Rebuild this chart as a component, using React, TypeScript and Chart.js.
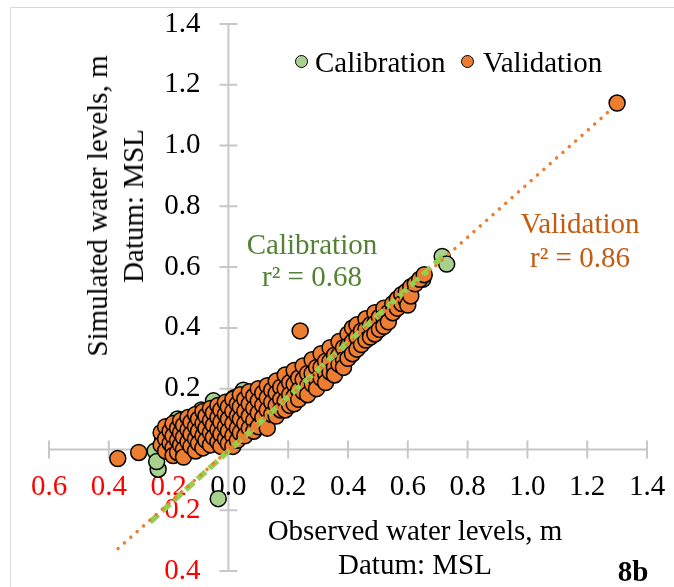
import React, { useEffect, useRef } from 'react';
import { Chart, registerables } from 'chart.js';

Chart.register(...registerables);

const FONT = '"Liberation Serif", "Times New Roman", serif';

// Axis ticks
const xTickValues = [-0.6, -0.4, -0.2, 0, 0.2, 0.4, 0.6, 0.8, 1.0, 1.2, 1.4];
const xTickLabels = ['0.6', '0.4', '0.2', '0.0', '0.2', '0.4', '0.6', '0.8', '1.0', '1.2', '1.4'];
const yTickValues = [-0.4, -0.2, 0, 0.2, 0.4, 0.6, 0.8, 1.0, 1.2, 1.4];
const yTickLabels = ['0.4', '0.2', '', '0.2', '0.4', '0.6', '0.8', '1.0', '1.2', '1.4'];

// Validation series: observed (x) and simulated (y), one line per group
const validationObserved = [
  -0.37, -0.30,
  -0.225, -0.225,
  -0.21, -0.21, -0.21,
  -0.195, -0.195,
  -0.185, -0.185, -0.185, -0.185,
  -0.17, -0.17, -0.17,
  -0.16, -0.16, -0.16,
  -0.15, -0.15, -0.15, -0.15,
  -0.135, -0.135, -0.135,
  -0.125, -0.125, -0.125,
  -0.11, -0.11, -0.11, -0.11,
  -0.10, -0.10, -0.10,
  -0.085, -0.085, -0.085, -0.085,
  -0.075, -0.075, -0.075,
  -0.06, -0.06, -0.06, -0.06,
  -0.05, -0.05, -0.05,
  -0.035, -0.035, -0.035, -0.035,
  -0.025, -0.025, -0.025, -0.025,
  -0.01, -0.01, -0.01, -0.01,
  0.0, 0.0, 0.0, 0.0,
  0.015, 0.015, 0.015, 0.015, 0.015,
  0.03, 0.03, 0.03, 0.03,
  0.04, 0.04, 0.04, 0.04,
  0.055, 0.055, 0.055, 0.055,
  0.07, 0.07, 0.07, 0.07,
  0.085, 0.085, 0.085, 0.085,
  0.10, 0.10, 0.10, 0.10,
  0.115, 0.115, 0.115,
  0.13, 0.13, 0.13, 0.13,
  0.145, 0.145, 0.145,
  0.16, 0.16, 0.16, 0.16,
  0.175, 0.175, 0.175,
  0.19, 0.19, 0.19, 0.19,
  0.205, 0.205, 0.205,
  0.22, 0.22, 0.22, 0.22,
  0.235, 0.235, 0.235,
  0.24,
  0.25, 0.25, 0.25,
  0.265, 0.265, 0.265,
  0.28, 0.28, 0.28,
  0.295, 0.295, 0.295,
  0.31, 0.31, 0.31,
  0.325, 0.325, 0.325,
  0.34, 0.34, 0.34,
  0.355, 0.355, 0.355,
  0.37, 0.37, 0.37,
  0.385, 0.385, 0.385,
  0.40, 0.40, 0.40,
  0.415, 0.415, 0.415,
  0.43, 0.43, 0.43,
  0.445, 0.445,
  0.46, 0.46, 0.46,
  0.475, 0.475,
  0.49, 0.49, 0.49,
  0.505, 0.505,
  0.52, 0.52, 0.52,
  0.535, 0.535,
  0.55, 0.55,
  0.565, 0.565,
  0.58, 0.58,
  0.595, 0.595,
  0.60,
  0.61, 0.61,
  0.625, 0.64, 0.655,
  1.30,
];
const validationSimulated = [
  -0.03, -0.01,
  0.055, 0.015,
  0.075, 0.035, -0.005,
  0.06, 0.02,
  0.085, 0.045, 0.005, -0.02,
  0.07, 0.03, -0.01,
  0.095, 0.055, 0.015,
  0.08, 0.04, 0.0, -0.025,
  0.105, 0.065, 0.025,
  0.09, 0.05, 0.01,
  0.115, 0.075, 0.035, -0.005,
  0.10, 0.06, 0.02,
  0.125, 0.085, 0.045, 0.005,
  0.11, 0.07, 0.03,
  0.135, 0.095, 0.055, 0.015,
  0.12, 0.08, 0.04,
  0.145, 0.105, 0.065, 0.025,
  0.13, 0.09, 0.05, 0.01,
  0.155, 0.115, 0.075, 0.035,
  0.14, 0.10, 0.06, 0.02,
  0.165, 0.125, 0.085, 0.045, 0.01,
  0.15, 0.11, 0.07, 0.03,
  0.18, 0.14, 0.10, 0.055,
  0.165, 0.125, 0.085, 0.045,
  0.19, 0.15, 0.11, 0.07,
  0.175, 0.135, 0.095, 0.06,
  0.20, 0.16, 0.12, 0.075,
  0.185, 0.145, 0.105,
  0.21, 0.17, 0.13, 0.07,
  0.195, 0.155, 0.115,
  0.225, 0.185, 0.145, 0.11,
  0.205, 0.165, 0.13,
  0.245, 0.20, 0.16, 0.13,
  0.22, 0.18, 0.145,
  0.26, 0.215, 0.175, 0.15,
  0.235, 0.195, 0.165,
  0.39,
  0.275, 0.23, 0.19,
  0.25, 0.21, 0.18,
  0.295, 0.25, 0.215,
  0.27, 0.23, 0.20,
  0.315, 0.27, 0.235,
  0.29, 0.25, 0.22,
  0.335, 0.29, 0.255,
  0.31, 0.27, 0.245,
  0.355, 0.31, 0.28,
  0.335, 0.295, 0.27,
  0.38, 0.34, 0.30,
  0.40, 0.355, 0.315,
  0.41, 0.37, 0.33,
  0.39, 0.345,
  0.43, 0.395, 0.36,
  0.41, 0.37,
  0.45, 0.415, 0.38,
  0.435, 0.395,
  0.465, 0.435, 0.405,
  0.45, 0.42,
  0.48, 0.45,
  0.495, 0.465,
  0.51, 0.48,
  0.52, 0.49,
  0.475,
  0.535, 0.505,
  0.545, 0.56, 0.575,
  1.14,
];

// Calibration series: observed (x) and simulated (y)
const calibrationObserved = [
  -0.245, -0.235, -0.24, -0.22, -0.21, -0.19, -0.17, -0.15, -0.13, -0.11,
  -0.09, -0.07, -0.05, -0.03, -0.034, 0.0, 0.02, 0.05, 0.07, 0.10,
  0.13, 0.16, 0.20, 0.25, 0.30, 0.35, 0.40, 0.45, 0.50, 0.55,
  0.60, 0.65, 0.715, 0.73,
];
const calibrationSimulated = [
  -0.005, -0.065, -0.04, 0.03, 0.06, 0.02, 0.10, 0.0, 0.09, 0.06,
  0.13, 0.03, 0.16, 0.10, -0.162, 0.05, 0.17, 0.195, 0.12, 0.10,
  0.20, 0.17, 0.20, 0.23, 0.27, 0.31, 0.35, 0.39, 0.43, 0.47,
  0.52, 0.56, 0.635, 0.61,
];

// Linear trendlines (end points)
const calibrationTrendX = [-0.262, 0.73];
const calibrationTrendY = [-0.239, 0.646];
const validationTrendX = [-0.369, 1.304];
const validationTrendY = [-0.326, 1.14];

const toPoints = (xs: number[], ys: number[]) => xs.map((x, i) => ({ x, y: ys[i] }));

const crossAxesPlugin = {
  id: 'crossAxes',
  beforeDatasetsDraw(chart: any) {
    const { ctx, chartArea, scales } = chart;
    const xs = scales.x;
    const ys = scales.y;
    const x0 = xs.getPixelForValue(0);
    const y0 = ys.getPixelForValue(0);
    ctx.save();
    ctx.strokeStyle = '#C8C8C8';
    ctx.lineWidth = 2;
    ctx.beginPath();
    ctx.moveTo(chartArea.left, y0);
    ctx.lineTo(chartArea.right, y0);
    ctx.moveTo(x0, chartArea.top);
    ctx.lineTo(x0, chartArea.bottom);
    xTickValues.forEach((v) => {
      const px = xs.getPixelForValue(v);
      ctx.moveTo(px, y0 - 9);
      ctx.lineTo(px, y0 + 9);
    });
    yTickValues.forEach((v) => {
      const py = ys.getPixelForValue(v);
      ctx.moveTo(x0 - 9, py);
      ctx.lineTo(x0 + 9, py);
    });
    ctx.stroke();

    ctx.font = `29px ${FONT}`;
    ctx.textBaseline = 'middle';
    ctx.textAlign = 'center';
    xTickValues.forEach((v, i) => {
      ctx.fillStyle = v < 0 ? '#FF0000' : '#000000';
      ctx.fillText(xTickLabels[i], xs.getPixelForValue(v), y0 + 38);
    });
    ctx.textAlign = 'right';
    yTickValues.forEach((v, i) => {
      if (!yTickLabels[i]) return;
      ctx.fillStyle = v < 0 ? '#FF0000' : '#000000';
      ctx.fillText(yTickLabels[i], x0 - 28, ys.getPixelForValue(v));
    });
    ctx.restore();
  },
};

const abs = (left: number, top: number, extra: React.CSSProperties = {}): React.CSSProperties => ({
  position: 'absolute',
  left,
  top,
  transform: 'translate(-50%, -50%)',
  whiteSpace: 'nowrap',
  fontFamily: FONT,
  fontSize: 29,
  lineHeight: '29px',
  color: '#000',
  textAlign: 'center',
  ...extra,
});

export default function App() {
  const canvasRef = useRef<HTMLCanvasElement | null>(null);

  useEffect(() => {
    if (!canvasRef.current) return;
    const chart = new Chart(canvasRef.current, {
      type: 'scatter',
      data: {
        datasets: [
          {
            label: 'Validation trend',
            data: toPoints(validationTrendX, validationTrendY),
            showLine: true,
            borderColor: '#ED7D31',
            borderWidth: 3.5,
            borderDash: [0.01, 8.5],
            borderCapStyle: 'round',
            pointRadius: 0,
            order: 0,
          } as any,
          {
            label: 'Calibration trend',
            data: toPoints(calibrationTrendX, calibrationTrendY),
            showLine: true,
            borderColor: '#92D050',
            borderWidth: 5.5,
            borderDash: [11, 5],
            borderCapStyle: 'butt',
            pointRadius: 0,
            order: 1,
          } as any,
          {
            label: 'Validation',
            data: toPoints(validationObserved, validationSimulated),
            backgroundColor: '#ED7D31',
            borderColor: '#000000',
            borderWidth: 1.5,
            pointRadius: 8,
            order: 2,
          },
          {
            label: 'Calibration',
            data: toPoints(calibrationObserved, calibrationSimulated),
            backgroundColor: '#A9D18E',
            borderColor: '#000000',
            borderWidth: 1.5,
            pointRadius: 8,
            order: 3,
          },
        ],
      },
      options: {
        responsive: false,
        animation: false,
        events: [],
        layout: { padding: { left: 49, right: 27, top: 24, bottom: 16 } },
        plugins: { legend: { display: false }, tooltip: { enabled: false } },
        scales: {
          x: { type: 'linear', min: -0.6, max: 1.4, display: false },
          y: { type: 'linear', min: -0.4, max: 1.4, display: false },
        },
      },
      plugins: [crossAxesPlugin],
    });
    return () => chart.destroy();
  }, []);

  const marker = (cx: number, cy: number, fill: string): React.CSSProperties => ({
    position: 'absolute',
    left: cx - 7,
    top: cy - 7,
    width: 11,
    height: 11,
    borderRadius: '50%',
    background: fill,
    border: '1.5px solid #000',
  });

  return (
    <div
      style={{
        position: 'fixed',
        left: 0,
        top: 0,
        width: 674,
        height: 587,
        overflow: 'hidden',
        background: '#fff',
      }}
    >
      <div
        style={{
          position: 'absolute',
          left: 10,
          top: 7,
          width: 700,
          height: 620,
          border: '1px solid #D9D9D9',
        }}
      />
      <canvas
        ref={canvasRef}
        width={674}
        height={587}
        style={{ position: 'absolute', left: 0, top: 0, width: 674, height: 587 }}
      />
      {/* Legend */}
      <div style={marker(302, 62, '#A9D18E')} />
      <div style={{ ...abs(315, 62), transform: 'translate(0, -50%)', textAlign: 'left' }}>Calibration</div>
      <div style={marker(468, 62, '#ED7D31')} />
      <div style={{ ...abs(483, 62), transform: 'translate(0, -50%)', textAlign: 'left' }}>Validation</div>

      {/* Axis titles */}
      <div style={abs(115, 206, { transform: 'translate(-50%, -50%) rotate(-90deg)', lineHeight: '36px' })}>
        Simulated water levels, m
        <br />
        Datum: MSL
      </div>
      <div style={abs(415, 547, { lineHeight: '34px' })}>
        Observed water levels, m
        <br />
        Datum: MSL
      </div>

      {/* Trendline annotations */}
      <div style={abs(312, 260, { lineHeight: '32px', color: '#548235' })}>
        Calibration
        <br />
        r² = 0.68
      </div>
      <div style={abs(580, 240, { lineHeight: '34px', color: '#C55A11' })}>
        Validation
        <br />
        r² = 0.86
      </div>

      <div style={abs(633, 571, { fontWeight: 'bold' })}>8b</div>
    </div>
  );
}
